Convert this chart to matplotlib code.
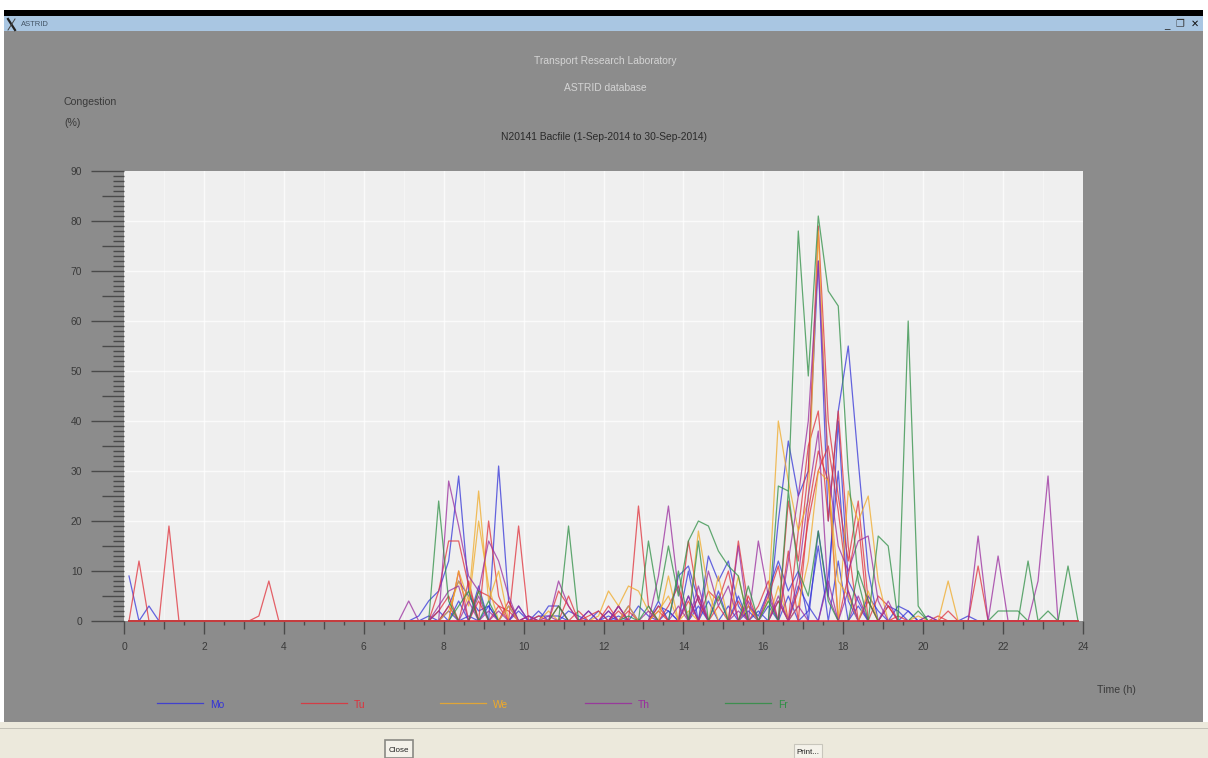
# -*- coding: utf-8 -*-
import numpy as np
import matplotlib
matplotlib.use('Agg')
import matplotlib.pyplot as plt
from matplotlib.patches import Rectangle

plt.rcParams['font.family'] = ['Liberation Sans', 'DejaVu Sans']

# quarter hour bins, anything not listed sits on 0
day_names = ['Mo', 'Tu', 'We', 'Th', 'Fr']
day_colors = ['#3434d8', '#e0303a', '#f0aa28', '#9a2c9e', '#2f8f45']

mo_hours = [
    [0.125, 0.625, 7.375, 7.625, 7.875, 8.125, 8.375, 8.625, 9.375, 9.625, 10.625, 10.875, 12.375, 14.125, 14.625, 14.875, 15.125, 15.375, 16.375, 16.625, 16.875, 17.125, 17.375, 17.625, 17.875, 18.125, 18.375, 18.625, 19.625],
    [8.125, 8.375, 8.625, 8.875, 9.125, 9.875, 10.375, 11.125, 11.375, 12.125, 12.625, 13.375, 13.875, 14.125, 14.375, 15.625, 15.875, 16.125, 16.375, 16.625, 16.875, 17.375, 17.625, 17.875, 18.125, 18.375, 19.375, 19.625, 20.125],
    [7.875, 8.375, 8.875, 9.625, 10.125, 11.625, 12.125, 12.875, 13.125, 13.625, 14.375, 14.875, 15.375, 15.875, 16.375, 16.875, 17.125, 17.625, 17.875, 18.125, 18.625, 18.875, 21.125],
    [7.625, 8.125, 8.625, 9.125, 9.875, 10.375, 10.625, 10.875, 11.875, 12.375, 13.375, 13.625, 14.125, 14.625, 15.125, 15.625, 16.125, 16.625, 17.125, 17.375, 17.875, 18.375, 19.125, 19.375],
]
mo_vals = [
    [9, 3, 1, 4, 6, 12, 29, 6, 31, 4, 3, 3, 3, 10, 13, 8, 12, 3, 20, 36, 25, 30, 72, 20, 42, 55, 32, 10, 2],
    [3, 8, 5, 2, 3, 3, 2, 2, 1, 2, 3, 4, 9, 11, 4, 3, 1, 6, 12, 6, 10, 18, 5, 40, 8, 4, 3, 2, 1],
    [2, 4, 7, 3, 1, 2, 1, 3, 1, 2, 3, 6, 5, 2, 4, 7, 3, 9, 30, 4, 5, 2, 1],
    [1, 2, 1, 3, 2, 1, 1, 1, 2, 1, 3, 2, 5, 4, 3, 2, 3, 5, 2, 15, 12, 3, 3, 2],
]

tu_hours = [
    [0.375, 1.125, 3.375, 3.625, 7.875, 8.125, 8.375, 8.625, 9.125, 9.375, 9.875, 11.125, 12.875, 13.125, 14.125, 14.375, 15.375, 15.625, 16.625, 16.875, 17.125, 17.375, 17.625, 17.875, 18.125, 18.375, 18.625, 21.375],
    [8.375, 8.875, 9.125, 9.375, 9.625, 10.875, 11.125, 12.375, 13.375, 14.625, 14.875, 15.125, 16.125, 16.375, 16.875, 17.125, 17.375, 17.625, 17.875, 18.125, 18.875, 19.125, 20.375],
    [7.875, 8.125, 8.625, 9.625, 10.375, 11.375, 12.125, 12.625, 13.625, 13.875, 14.375, 15.375, 15.875, 16.125, 16.625, 17.125, 17.375, 17.625, 18.125, 18.375, 19.375, 20.625],
    [8.125, 8.875, 9.375, 10.125, 10.875, 11.625, 11.875, 12.375, 13.375, 14.125, 14.875, 15.625, 16.375, 16.875, 17.125, 17.375, 17.625, 17.875, 18.125, 18.625, 19.125],
]
tu_vals = [
    [12, 19, 1, 8, 6, 16, 16, 7, 20, 5, 19, 5, 23, 3, 16, 4, 16, 3, 24, 12, 30, 79, 40, 25, 12, 24, 4, 11],
    [10, 6, 5, 3, 2, 6, 3, 3, 2, 6, 4, 10, 5, 11, 18, 35, 42, 20, 42, 15, 5, 3, 1],
    [2, 5, 8, 4, 1, 2, 3, 2, 3, 7, 5, 4, 3, 8, 14, 22, 34, 28, 9, 20, 1, 2],
    [3, 4, 3, 1, 3, 1, 2, 2, 3, 4, 3, 5, 4, 6, 20, 30, 35, 22, 6, 4, 3],
]

we_hours = [
    [8.375, 8.625, 8.875, 9.125, 9.375, 11.875, 12.125, 12.375, 12.625, 12.875, 13.125, 13.625, 14.375, 14.625, 15.375, 16.125, 16.375, 16.625, 16.875, 17.125, 17.375, 17.625, 18.125, 18.375, 18.625, 18.875, 20.625],
    [8.125, 8.375, 8.625, 8.875, 9.125, 9.625, 10.625, 12.625, 13.375, 13.625, 14.125, 14.875, 15.625, 16.375, 16.875, 17.125, 17.375, 17.625, 17.875, 18.125, 18.625, 19.875],
]
we_vals = [
    [10, 4, 26, 4, 10, 1, 6, 3, 7, 6, 2, 9, 18, 6, 9, 4, 40, 28, 18, 24, 78, 30, 26, 20, 25, 8, 8],
    [2, 8, 3, 20, 7, 3, 2, 3, 2, 5, 2, 9, 3, 7, 3, 12, 30, 28, 8, 5, 6, 1],
]

th_hours = [
    [7.125, 8.125, 8.375, 8.625, 8.875, 9.125, 9.375, 9.625, 10.875, 11.125, 13.375, 13.625, 13.875, 14.375, 15.375, 15.875, 16.125, 16.625, 16.875, 17.125, 17.375, 17.625, 17.875, 18.125, 18.375, 18.625, 18.875, 21.375, 21.875, 22.875, 23.125],
    [7.875, 8.125, 8.375, 8.875, 9.375, 10.125, 11.625, 12.375, 13.125, 14.125, 14.625, 14.875, 15.125, 15.625, 16.375, 16.875, 17.125, 17.375, 17.625, 18.125, 19.125],
    [8.625, 9.125, 9.875, 10.625, 12.125, 13.875, 14.375, 15.375, 16.125, 16.875, 17.625, 18.375, 20.125],
]
th_vals = [
    [4, 28, 19, 9, 6, 16, 12, 5, 8, 3, 9, 23, 6, 7, 15, 16, 5, 12, 25, 40, 72, 30, 15, 10, 16, 17, 4, 17, 13, 8, 29],
    [3, 6, 7, 5, 2, 1, 2, 3, 2, 5, 10, 3, 7, 4, 5, 9, 25, 38, 5, 6, 4],
    [4, 2, 3, 1, 2, 3, 5, 2, 6, 3, 8, 5, 1],
]

fr_hours = [
    [7.875, 8.125, 8.875, 11.125, 13.125, 13.375, 13.625, 13.875, 14.125, 14.375, 14.625, 14.875, 15.125, 15.375, 16.375, 16.625, 16.875, 17.125, 17.375, 17.625, 17.875, 18.125, 18.375, 18.875, 19.125, 19.625, 19.875, 22.625, 23.625],
    [8.375, 8.625, 9.125, 10.875, 12.625, 13.125, 13.875, 14.375, 14.875, 15.625, 16.125, 16.625, 16.875, 17.125, 17.375, 17.625, 18.375, 18.625, 19.875, 21.875, 22.125, 22.375, 23.125],
]
fr_vals = [
    [24, 4, 6, 19, 16, 4, 15, 5, 16, 20, 19, 14, 11, 9, 27, 26, 78, 49, 81, 66, 63, 30, 8, 17, 15, 60, 3, 12, 11],
    [3, 6, 4, 3, 1, 3, 10, 16, 5, 7, 4, 26, 10, 5, 18, 4, 10, 4, 2, 2, 2, 2, 2],
]

all_hours = [mo_hours, tu_hours, we_hours, th_hours, fr_hours]
all_vals = [mo_vals, tu_vals, we_vals, th_vals, fr_vals]

bins = np.arange(96) * 0.25 + 0.125

W, H = 1208, 758
fig = plt.figure(figsize=(W / 100, H / 100), dpi=100, facecolor='white')

# window around the chart, in screen pixels
bg = fig.add_axes([0, 0, 1, 1], zorder=0)
bg.set_xlim(0, W)
bg.set_ylim(H, 0)
bg.axis('off')
bg.add_patch(Rectangle((4, 10), 1199, 6, color='black', lw=0))
bg.add_patch(Rectangle((4, 16), 1199, 15, color='#a9c6e2', lw=0))
bg.add_patch(Rectangle((4, 31), 1199, 691, color='#8c8c8c', lw=0))
bg.add_patch(Rectangle((0, 722), 1208, 36, color='#ece9dc', lw=0))
bg.add_patch(Rectangle((0, 728), 1208, 1, color='#c4c2b8', lw=0))
bg.plot([8, 15], [19, 30], color='#222222', lw=1.6)
bg.plot([15, 8], [19, 30], color='#444444', lw=0.7)
bg.text(21, 24, 'ASTRID', fontsize=5.5, color='#445566', va='center')
bg.text(1167, 25, '_', fontsize=7, color='#222222', ha='center', va='center')
bg.text(1180, 24, '\u2750', fontsize=7, color='#333333', ha='center', va='center', family='DejaVu Sans')
bg.text(1195, 24, '\u2715', fontsize=7, color='#111111', ha='center', va='center', family='DejaVu Sans', weight='bold')

bg.text(605, 61, 'Transport Research Laboratory', fontsize=7.4, color='#d4d4d4', ha='center', va='center')
bg.text(605, 88, 'ASTRID database', fontsize=7.4, color='#d4d4d4', ha='center', va='center')
bg.text(604, 137, 'N20141 Bacfile (1-Sep-2014 to 30-Sep-2014)', fontsize=7.4, color='#2a2a2a', ha='center', va='center')
bg.text(64, 102, 'Congestion', fontsize=7.6, color='#3a3a3a', va='center')
bg.text(64, 123, '(%)', fontsize=7.6, color='#3a3a3a', va='center')
bg.text(1097, 690, 'Time (h)', fontsize=7.6, color='#3a3a3a', va='center')

# legend row
leg_x = [157, 301, 440, 585, 725]
for name, col, x0 in zip(day_names, day_colors, leg_x):
    bg.plot([x0, x0 + 46], [703, 703], color=col, lw=0.9, alpha=0.85)
    bg.text(x0 + 53, 705, name, fontsize=7.4, color=col, va='center')

# buttons
bg.add_patch(Rectangle((385, 740), 28, 18, fc='#f4f2ea', ec='#8a8a84', lw=1.2))
bg.text(399, 751, 'Close', fontsize=5.8, color='#222222', ha='center', va='center')
bg.add_patch(Rectangle((794, 744), 28, 14, fc='#f4f2ea', ec='#c8c6bc', lw=0.8))
bg.text(808, 752, 'Print...', fontsize=5.8, color='#222222', ha='center', va='center')

# the plot itself
ax = fig.add_axes([124 / W, 1 - 621 / H, (1083 - 124) / W, (621 - 171) / H], zorder=1)
ax.set_facecolor('#efefef')
ax.set_xlim(0, 24)
ax.set_ylim(0, 90)
for s in ax.spines.values():
    s.set_visible(False)

ax.set_xticks(np.arange(0, 25, 2))
ax.set_xticks(np.arange(0, 24.5, 0.5), minor=True)
ax.set_yticks(np.arange(0, 91, 10))
ax.set_yticks(np.arange(0, 91, 1), minor=True)
ax.tick_params(axis='x', which='major', length=9, width=1, color='#4a4a4a', labelsize=7.4, labelcolor='#3a3a3a', pad=6)
ax.tick_params(axis='x', which='minor', length=3, width=1, color='#4a4a4a')
ax.tick_params(axis='y', which='major', length=24, width=1, color='#4a4a4a', labelsize=7.4, labelcolor='#3a3a3a', pad=6)
ax.tick_params(axis='y', which='minor', length=8, width=1, color='#4a4a4a')

# longer ticks on the hour and on every 5 %
for t, v in zip(ax.xaxis.get_minor_ticks(), ax.xaxis.get_minorticklocs()):
    if v % 1 == 0:
        t.tick1line.set_markersize(6)
for t, v in zip(ax.yaxis.get_minor_ticks(), ax.yaxis.get_minorticklocs()):
    if v % 5 == 0:
        t.tick1line.set_markersize(16)

for h in np.arange(1, 24):
    ax.axvline(h, color='white', lw=1.0 if h % 2 == 0 else 0.6, alpha=0.75 if h % 2 == 0 else 0.45, zorder=1)
for v in np.arange(10, 90, 10):
    ax.axhline(v, color='white', lw=1.0, alpha=0.75, zorder=1)

for hours, vals, col in zip(all_hours, all_vals, day_colors):
    for h_list, v_list in zip(hours, vals):
        y = np.zeros(len(bins))
        y[np.searchsorted(bins, h_list)] = v_list
        ax.plot(bins, y, color=col, lw=0.9, alpha=0.75, zorder=3, clip_on=False)

# Tuesday flat run stays on top along the zero line
ax.plot(bins, np.zeros(len(bins)), color=day_colors[1], lw=1.3, alpha=0.9, zorder=4, clip_on=False)

fig.savefig('out.png', dpi=100, facecolor='white')
